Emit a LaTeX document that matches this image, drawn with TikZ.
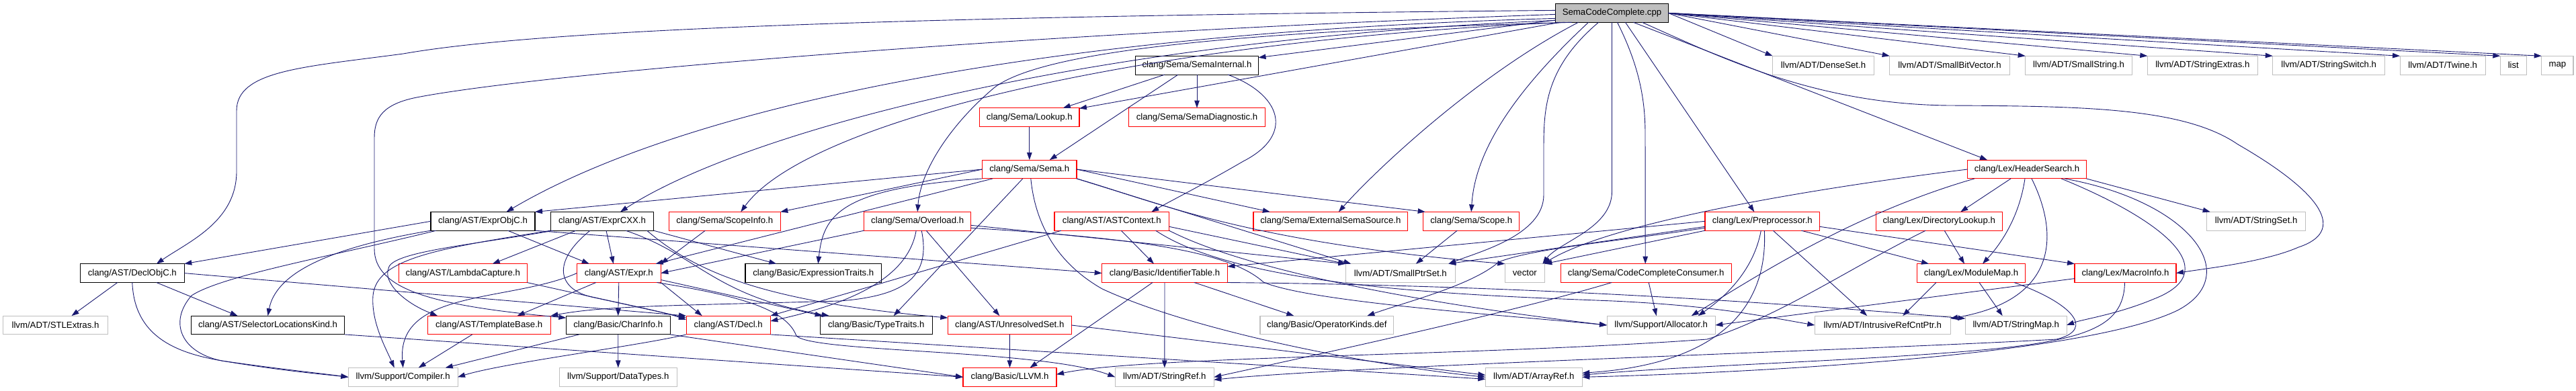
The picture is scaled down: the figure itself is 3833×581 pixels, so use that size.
\documentclass[tikz,border=0pt]{standalone}
\usepackage{fontspec}
\newfontfamily\dfont{Liberation Sans}
\usetikzlibrary{arrows.meta}
\definecolor{edgec}{HTML}{191970}
\definecolor{grayb}{HTML}{BFBFBF}
\definecolor{redb}{HTML}{FF0000}
\newcommand\nodefont{\dfont\fontsize{13.2}{15.8}\selectfont}
\begin{document}
\begin{tikzpicture}[x=1pt,y=1pt,
  bx/.style={rectangle, draw, line width=1.1pt, minimum height=27.8pt, inner sep=0pt, outer sep=0pt, font=\nodefont, text=black},
  bk/.style={bx, draw=black},
  br/.style={bx, draw=redb},
  bg/.style={bx, draw=grayb},
  broot/.style={bx, draw=black, fill=grayb},
  dep/.style={draw=edgec, line width=0.9pt, -{Triangle[length=11pt,width=7.5pt]}}]
\useasboundingbox (0,0) rectangle (3833,-581);
% ---------------- nodes
\node[broot, minimum width=168pt] (root) at (2398.5,-19.4) {SemaCodeComplete.cpp};
\node[bk, minimum width=183pt] (semaint) at (1781,-97.2) {clang/Sema/SemaInternal.h};
\node[bg, minimum width=151pt] (denseset) at (2713,-97.2) {llvm/ADT/DenseSet.h};
\node[bg, minimum width=178.6pt] (smallbv) at (2901,-97.2) {llvm/ADT/SmallBitVector.h};
\node[bg, minimum width=158.6pt] (smallstr) at (3093,-97.2) {llvm/ADT/SmallString.h};
\node[bg, minimum width=164pt] (strext) at (3277.3,-97.2) {llvm/ADT/StringExtras.h};
\node[bg, minimum width=167pt] (strsw) at (3465.2,-97.2) {llvm/ADT/StringSwitch.h};
\node[bg, minimum width=127.3pt] (twine) at (3634.7,-97.2) {llvm/ADT/Twine.h};
\node[bg, minimum width=39pt] (list) at (3739.8,-97.2) {list};
\node[bg, minimum width=47.3pt] (map) at (3805.3,-97.2) {map};
\node[br, minimum width=148.3pt] (lookup) at (1531.8,-174.6) {clang/Sema/Lookup.h};
\node[br, minimum width=203.3pt] (semadiag) at (1781,-174.6) {clang/Sema/SemaDiagnostic.h};
\node[br, minimum width=140.3pt] (sema) at (1531.8,-252) {clang/Sema/Sema.h};
\node[br, minimum width=176.7pt] (hsearch) at (3016,-252) {clang/Lex/HeaderSearch.h};
\node[bk, minimum width=155pt] (exprobjc) at (718.5,-329.3) {clang/AST/ExprObjC.h};
\node[bk, minimum width=153.3pt] (exprcxx) at (896,-329.3) {clang/AST/ExprCXX.h};
\node[br, minimum width=166pt] (scopeinfo) at (1078.3,-329.3) {clang/Sema/ScopeInfo.h};
\node[br, minimum width=159pt] (overload) at (1365.2,-329.3) {clang/Sema/Overload.h};
\node[br, minimum width=170.7pt] (astctx) at (1654.3,-329.3) {clang/AST/ASTContext.h};
\node[br, minimum width=229.7pt] (extsema) at (1979.8,-329.3) {clang/Sema/ExternalSemaSource.h};
\node[br, minimum width=143pt] (scope) at (2189.2,-329.3) {clang/Sema/Scope.h};
\node[br, minimum width=170.7pt] (preproc) at (2622.3,-329.3) {clang/Lex/Preprocessor.h};
\node[br, minimum width=188.3pt] (dirlookup) at (2885.2,-329.3) {clang/Lex/DirectoryLookup.h};
\node[bg, minimum width=147pt] (strset) at (3357.2,-329.3) {llvm/ADT/StringSet.h};
\node[bk, minimum width=155pt] (declobjc) at (196.8,-406.6) {clang/AST/DeclObjC.h};
\node[br, minimum width=191pt] (lambda) at (688.8,-406.6) {clang/AST/LambdaCapture.h};
\node[br, minimum width=125pt] (expr) at (920.8,-406.6) {clang/AST/Expr.h};
\node[bk, minimum width=202.7pt] (exprtraits) at (1210.3,-406.6) {clang/Basic/ExpressionTraits.h};
\node[br, minimum width=186.7pt] (idtable) at (1733,-406.6) {clang/Basic/IdentifierTable.h};
\node[bg, minimum width=163pt] (smallptr) at (2083.8,-406.6) {llvm/ADT/SmallPtrSet.h};
\node[bg, minimum width=59pt] (vector) at (2268.8,-406.6) {vector};
\node[br, minimum width=253.7pt] (ccc) at (2449.2,-406.6) {clang/Sema/CodeCompleteConsumer.h};
\node[br, minimum width=160.7pt] (modmap) at (2933,-406.6) {clang/Lex/ModuleMap.h};
\node[br, minimum width=151pt] (macro) at (3162.5,-406.6) {clang/Lex/MacroInfo.h};
\node[bg, minimum width=155.7pt] (stlext) at (82.5,-484) {llvm/ADT/STLExtras.h};
\node[bk, minimum width=228.3pt] (selloc) at (398.5,-484) {clang/AST/SelectorLocationsKind.h};
\node[br, minimum width=183.3pt] (tmplbase) at (727.7,-484) {clang/AST/TemplateBase.h};
\node[bk, minimum width=154.7pt] (charinfo) at (919.7,-484) {clang/Basic/CharInfo.h};
\node[br, minimum width=125.3pt] (decl) at (1083.7,-484) {clang/AST/Decl.h};
\node[bk, minimum width=166.7pt] (typetraits) at (1303.7,-484) {clang/Basic/TypeTraits.h};
\node[br, minimum width=184pt] (unresolved) at (1502.3,-484) {clang/AST/UnresolvedSet.h};
\node[bg, minimum width=198.7pt] (opkinds) at (1974.3,-484) {clang/Basic/OperatorKinds.def};
\node[bg, minimum width=161.3pt] (alloc) at (2471.7,-484) {llvm/Support/Allocator.h};
\node[bg, minimum width=201.7pt] (ircp) at (2801.2,-484) {llvm/ADT/IntrusiveRefCntPtr.h};
\node[bg, minimum width=150.7pt] (strmap) at (2999.7,-484) {llvm/ADT/StringMap.h};
\node[bg, minimum width=162.7pt] (compiler) at (599.7,-561.3) {llvm/Support/Compiler.h};
\node[bg, minimum width=175pt] (datatypes) at (919.8,-561.3) {llvm/Support/DataTypes.h};
\node[br, minimum width=139pt] (llvmh) at (1502.5,-561.3) {clang/Basic/LLVM.h};
\node[bg, minimum width=147pt] (strref) at (1732.8,-561.3) {llvm/ADT/StringRef.h};
\node[bg, minimum width=144pt] (arrayref) at (2282.3,-561.3) {llvm/ADT/ArrayRef.h};
% ---------------- edges from SemaCodeComplete.cpp
\draw[dep] ([yshift=4pt]root.west) .. controls (1300,-25) and (800,-45) .. (600,-80) .. controls (450,-100) and (352,-105) .. (352,-165) -- (352,-255) .. controls (352,-330) and (280,-360) .. ([xshift=36pt]declobjc.north);
\draw[dep] ([yshift=-2pt]root.west) .. controls (1500,-50) and (800,-110) .. (620,-145) .. controls (570,-155) and (557,-175) .. (557,-205) -- (557,-370) .. controls (557,-430) and (640,-455) .. ([yshift=-3pt]charinfo.north west);
\draw[dep] ([yshift=-8pt]root.west) .. controls (1500,-50) and (1000,-170) .. ([xshift=35pt]exprobjc.north);
\draw[dep] ([yshift=-11pt]root.west) .. controls (1600,-60) and (1100,-200) .. ([xshift=27pt]exprcxx.north);
\draw[dep] ([xshift=-70pt]root.south) .. controls (1700,-60) and (1200,-180) .. ([xshift=24pt]scopeinfo.north);
\draw[dep] ([xshift=-60pt]root.south) .. controls (1900,-45) and (1560,-70) .. (1480,-130) .. controls (1420,-180) and (1370,-250) .. (overload.north);
\draw[dep] (root) -- (semaint);
\draw[dep] (root) -- (lookup);
\draw[dep] ([xshift=-50pt]root.south) .. controls (2200,-110) and (2050,-250) .. ([xshift=12pt]extsema.north);
\draw[dep] ([xshift=-35pt]root.south) .. controls (2260,-130) and (2195,-220) .. (scope.north);
\draw[dep] ([xshift=-20pt]root.south) .. controls (2300,-100) and (2297,-160) .. (2297,-220) -- (2297,-290) .. controls (2297,-350) and (2200,-375) .. ([xshift=-10pt]smallptr.north east);
\draw[dep] (root.south) -- (2398.5,-285) .. controls (2398.5,-340) and (2320,-360) .. ([xshift=-3pt]vector.north east);
\draw[dep] ([xshift=8pt]root.south) .. controls (2440,-100) and (2448,-150) .. (2448,-200) -- ([xshift=-1pt]ccc.north);
\draw[dep] ([xshift=20pt]root.south) -- ([xshift=-12pt]preproc.north);
\draw[dep] ([xshift=32pt]root.south) -- ([xshift=-59pt]hsearch.north);
\draw[dep] ([xshift=45pt]root.south) .. controls (2560,-85) and (2700,-155) .. (2900,-157) .. controls (3100,-158) and (3250,-160) .. (3330,-215) .. controls (3460,-290) and (3490,-345) .. (3420,-368) .. controls (3370,-390) and (3280,-400) .. (macro.east);
\draw[dep] (root.east) -- (denseset.north west);
\draw[dep] (root.east) -- (smallbv.north west);
\draw[dep] (root.east) -- (smallstr.north west);
\draw[dep] (root.east) -- (strext.north west);
\draw[dep] (root.east) -- (strsw.north west);
\draw[dep] (root.east) -- (twine.north west);
\draw[dep] (root.east) -- (list.north west);
\draw[dep] (root.east) -- (map.north west);
% ---------------- SemaInternal, Lookup
\draw[dep] (semaint) -- (semadiag);
\draw[dep] ([xshift=-48pt]semaint.south) -- ([xshift=50pt]lookup.north);
\draw[dep] ([xshift=-28pt]semaint.south) -- ([xshift=30pt]sema.north);
\draw[dep] ([xshift=46pt]semaint.south) .. controls (1905,-140) and (1928,-200) .. (1850,-240) .. controls (1790,-275) and (1740,-300) .. ([xshift=59pt]astctx.north);
\draw[dep] (lookup) -- (sema);
% ---------------- Sema
\draw[dep] (sema.west) -- (exprobjc.north east);
\draw[dep] (sema) -- (expr);
\draw[dep] (sema.south west) .. controls (1250,-280) and (1225,-320) .. ([xshift=7pt]exprtraits.north);
\draw[dep] ([xshift=-10pt]sema.south) -- ([xshift=26pt]typetraits.north);
\draw[dep] (sema.east) -- ([xshift=-90pt]extsema.north);
\draw[dep] (sema.east) -- ([xshift=3pt]scope.north west);
\draw[dep] (sema.west) -- (scopeinfo.north east);
\draw[dep] (sema.south east) -- ([xshift=8pt]smallptr.north west);
\draw[dep] (sema.south east) .. controls (1720,-300) and (1850,-360) .. (vector.north west);
\draw[dep] ([xshift=2pt]sema.south) .. controls (1540,-330) and (1570,-390) .. (1640,-430) .. controls (1780,-495) and (2050,-545) .. (arrayref.west);
% ---------------- HeaderSearch
\draw[dep] ([xshift=-24pt]hsearch.south) -- ([xshift=32pt]dirlookup.north);
\draw[dep] ([xshift=-3pt]hsearch.south) .. controls (3005,-320) and (2980,-360) .. ([xshift=17pt]modmap.north);
\draw[dep] ([xshift=7pt]hsearch.south) .. controls (3060,-340) and (3070,-445) .. ([yshift=-4pt]ircp.north east);
\draw[dep] (hsearch.south east) -- ([xshift=5pt]strset.north west);
\draw[dep] ([xshift=51pt]hsearch.south) .. controls (3200,-320) and (3320,-400) .. (3205,-445) .. controls (3150,-468) and (3100,-475) .. (strmap.east);
\draw[dep] ([xshift=56pt]hsearch.south) .. controls (3260,-300) and (3340,-410) .. (3240,-462) .. controls (3100,-530) and (2600,-555) .. (arrayref.east);
\draw[dep] (hsearch.west) .. controls (2700,-280) and (2400,-330) .. ([xshift=-2pt]vector.north east);
\draw[dep] ([xshift=-78pt]hsearch.south) .. controls (2750,-320) and (2600,-420) .. ([xshift=45pt]alloc.north);
% ---------------- Preprocessor
\draw[dep] ([xshift=58pt]preproc.south) -- ([xshift=-63pt]modmap.north);
\draw[dep] ([xshift=16pt]preproc.south) -- ([xshift=-23pt]ircp.north);
\draw[dep] ([yshift=-8pt]preproc.east) -- (macro.north west);
\draw[dep] (preproc.west) -- ([yshift=-4pt]idtable.north east);
\draw[dep] ([yshift=-8pt]preproc.west) -- ([xshift=-10pt]smallptr.north east);
\draw[dep] (preproc.south west) -- (vector.north east);
\draw[dep] ([xshift=-2pt]preproc.south) .. controls (2610,-400) and (2570,-440) .. ([xshift=55pt]alloc.north);
\draw[dep] ([xshift=3pt]preproc.south) .. controls (2630,-440) and (2580,-540) .. ([yshift=6pt]arrayref.east);
\draw[dep] ([yshift=-10pt]preproc.west) .. controls (2400,-360) and (2280,-370) .. (2230,-390) .. controls (2190,-425) and (2090,-450) .. ([xshift=60pt]opkinds.north);
% ---------------- DirectoryLookup, ModuleMap, MacroInfo, CodeCompleteConsumer
\draw[dep] ([xshift=8pt]dirlookup.south) -- ([xshift=-10pt]modmap.north);
\draw[dep] ([xshift=-20pt]dirlookup.south) .. controls (2750,-400) and (2650,-470) .. (2540,-505) .. controls (2200,-530) and (1700,-530) .. ([yshift=4pt]llvmh.east);
\draw[dep] ([xshift=12pt]modmap.south) -- ([xshift=-20pt]strmap.north);
\draw[dep] ([xshift=-52pt]modmap.south) -- ([xshift=30pt]ircp.north);
\draw[dep] ([xshift=64pt]modmap.south) .. controls (3080,-450) and (3120,-490) .. (3060,-505) .. controls (2800,-520) and (2000,-545) .. ([yshift=-4pt]strref.east);
\draw[dep] ([yshift=-8pt]macro.west) -- (alloc.east);
\draw[dep] ([xshift=-1pt]macro.south) .. controls (3160,-490) and (3100,-510) .. (2900,-525) .. controls (2700,-540) and (2500,-545) .. ([yshift=3pt]arrayref.east);
\draw[dep] ([xshift=4pt]ccc.south) -- ([xshift=-7pt]alloc.north);
\draw[dep] ([xshift=-51pt]ccc.south) .. controls (2250,-465) and (1950,-530) .. (strref.east);
% ---------------- Scope, ScopeInfo, Overload, ASTContext
\draw[dep] ([xshift=-21pt]scope.south) -- ([xshift=23pt]smallptr.north);
\draw[dep] ([xshift=-29pt]scopeinfo.south) -- (expr.north east);
\draw[dep] (overload.south west) -- (expr.east);
\draw[dep] ([xshift=-2pt]overload.south) .. controls (1350,-420) and (1250,-455) .. ([yshift=6pt]decl.east);
\draw[dep] ([xshift=6pt]overload.south) .. controls (1385,-410) and (1350,-440) .. (1250,-448) .. controls (1000,-455) and (900,-455) .. (tmplbase.north east);
\draw[dep] ([xshift=13pt]overload.south) -- ([xshift=-15pt]unresolved.north);
\draw[dep] ([yshift=-6pt]overload.east) -- (smallptr.north west);
\draw[dep] ([yshift=-10pt]overload.east) .. controls (1700,-355) and (1830,-375) .. (1880,-420) .. controls (1950,-450) and (2250,-470) .. (alloc.west);
\draw[dep] ([xshift=14pt]astctx.south) -- ([xshift=-16pt]idtable.north);
\draw[dep] ([xshift=10pt]astctx.south west) -- (decl.north east);
\draw[dep] ([yshift=-8pt]astctx.east) -- (smallptr.north west);
\draw[dep] (astctx.south east) .. controls (1850,-400) and (2100,-450) .. (alloc.west);
\draw[dep] ([xshift=-20pt]astctx.south east) .. controls (1850,-430) and (2200,-440) .. (2400,-448) .. controls (2550,-455) and (2620,-470) .. (ircp.west);
% ---------------- ExprObjC
\draw[dep] (exprobjc.west) -- (declobjc.north east);
\draw[dep] (exprobjc.south west) .. controls (480,-370) and (410,-410) .. (selloc.north);
\draw[dep] ([xshift=37pt]exprobjc.south) -- ([xshift=-44pt]expr.north);
\draw[dep] (exprobjc.south east) -- (idtable.west);
\draw[dep] ([xshift=8pt]exprobjc.south west) .. controls (500,-380) and (330,-410) .. (285,-440) .. controls (250,-480) and (270,-525) .. (330,-537) .. controls (420,-552) and (480,-557) .. (compiler.west);
% ---------------- ExprCXX
\draw[dep] ([xshift=-39pt]exprcxx.south) -- ([xshift=44pt]lambda.north);
\draw[dep] ([xshift=6pt]exprcxx.south) -- ([xshift=-8pt]expr.north);
\draw[dep] (exprcxx.south east) -- ([xshift=-55pt]exprtraits.north);
\draw[dep] ([xshift=35pt]exprcxx.south) .. controls (1040,-380) and (1060,-440) .. ([xshift=-70pt]typetraits.north);
\draw[dep] ([xshift=-18pt]exprcxx.south) .. controls (820,-390) and (830,-430) .. (880,-442) .. controls (950,-457) and (990,-465) .. ([yshift=8pt]decl.west);
\draw[dep] ([xshift=4pt]exprcxx.south west) .. controls (700,-365) and (580,-375) .. (578,-400) .. controls (570,-420) and (600,-450) .. ([xshift=15pt]tmplbase.north west);
\draw[dep] (exprcxx.south west) .. controls (650,-370) and (560,-385) .. (555,-440) .. controls (552,-480) and (575,-520) .. ([xshift=-13pt]compiler.north);
\draw[dep] ([xshift=-10pt]exprcxx.south east) .. controls (1040,-410) and (1150,-450) .. ([yshift=-3pt]unresolved.north west);
% ---------------- DeclObjC, LambdaCapture
\draw[dep] ([xshift=-22pt]declobjc.south) -- ([xshift=24pt]stlext.north);
\draw[dep] ([xshift=36pt]declobjc.south) -- ([xshift=-45pt]selloc.north);
\draw[dep] (declobjc.south) .. controls (200,-500) and (260,-525) .. (330,-537) .. controls (420,-550) and (480,-556) .. (compiler.west);
\draw[dep] (declobjc.east) -- (decl.north west);
\draw[dep] (lambda.south east) -- ([yshift=-3pt]decl.north west);
% ---------------- Expr
\draw[dep] ([xshift=-34pt]expr.south) -- ([xshift=42pt]tmplbase.north);
\draw[dep] (expr.south) -- (charinfo.north);
\draw[dep] (expr.south east) -- ([xshift=-39pt]decl.north);
\draw[dep] ([yshift=4pt]expr.south east) -- ([xshift=-80pt]typetraits.north);
\draw[dep] (expr.west) .. controls (760,-450) and (590,-430) .. (compiler.north);
\draw[dep] ([xshift=-6pt]expr.south east) .. controls (1100,-440) and (1170,-460) .. (1185,-500) .. controls (1210,-525) and (1550,-520) .. (strref.west);
% ---------------- lower rows
\draw[dep] ([xshift=-25pt]tmplbase.south) -- ([xshift=23pt]compiler.north);
\draw[dep] (charinfo) -- (datatypes);
\draw[dep] ([xshift=-58pt]charinfo.south) -- ([xshift=63pt]compiler.north);
\draw[dep] (charinfo.south east) -- (llvmh.west);
\draw[dep] (decl.south west) .. controls (950,-515) and (750,-540) .. (compiler.east);
\draw[dep] (decl.south east) -- ([yshift=-3pt]arrayref.west);
\draw[dep] (unresolved) -- (llvmh);
\draw[dep] (unresolved.east) -- ([yshift=3pt]arrayref.west);
\draw[dep] (selloc.south east) -- (llvmh.west);
\draw[dep] ([xshift=44pt]idtable.south) -- ([xshift=-49pt]opkinds.north);
\draw[dep] (idtable) -- (strref);
\draw[dep] ([xshift=-18pt]idtable.south) -- ([xshift=30pt]llvmh.north);
\draw[dep] (idtable.south east) .. controls (2300,-425) and (2700,-455) .. ([yshift=-4pt]strmap.north west);
\end{tikzpicture}
\end{document}
